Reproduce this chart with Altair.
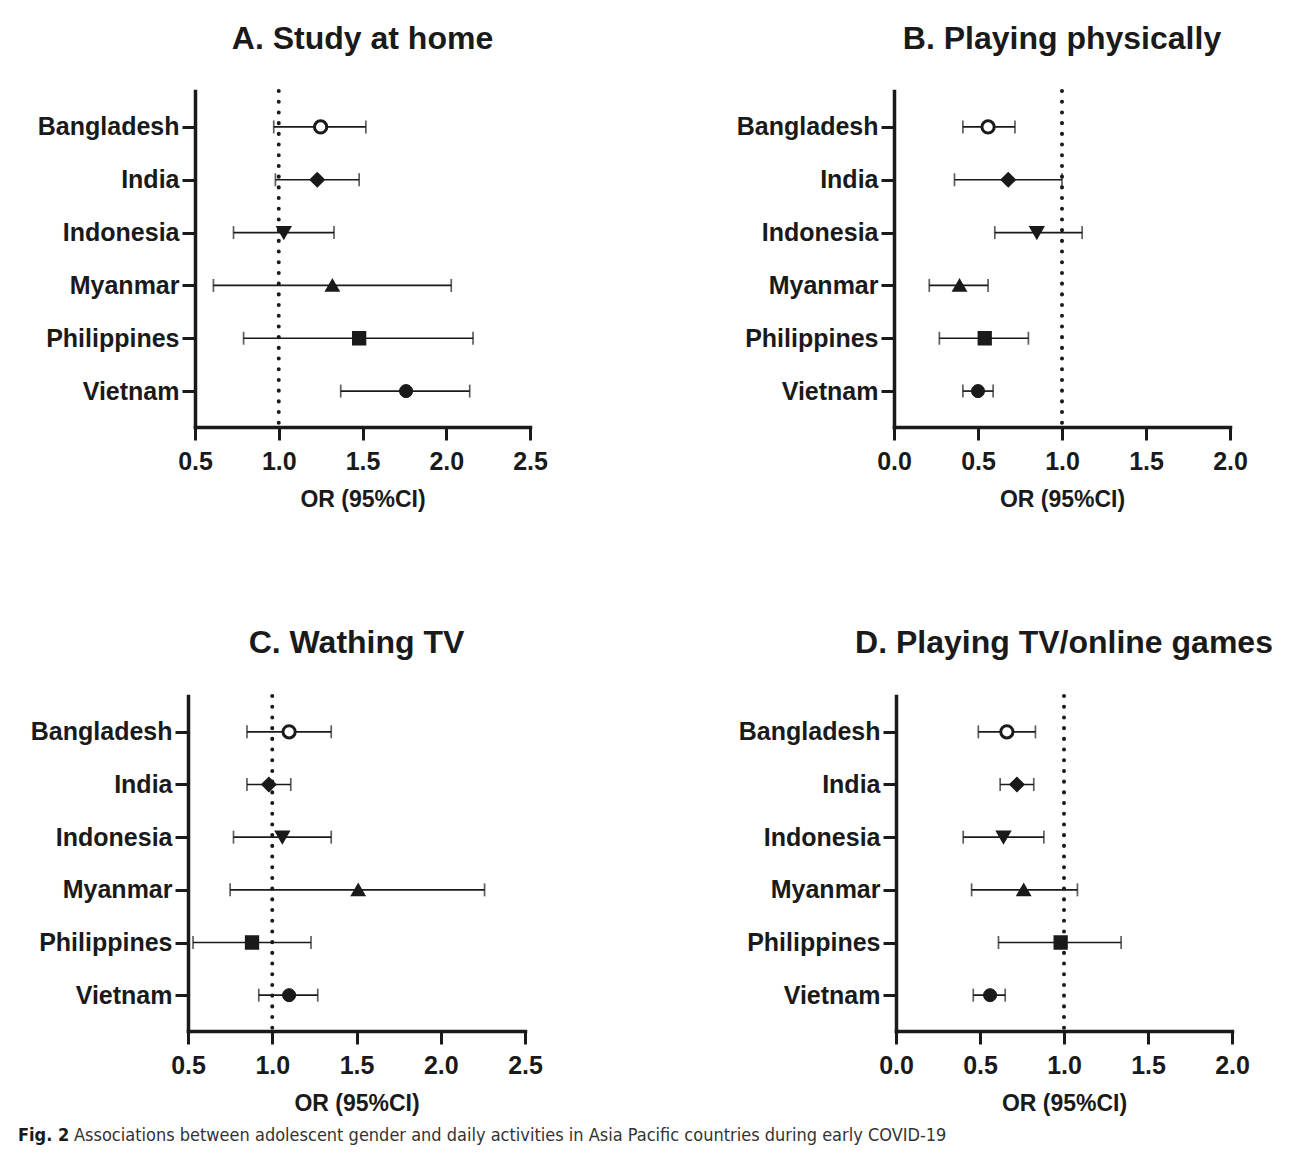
import altair as alt
import pandas as pd

countries = ["Bangladesh", "India", "Indonesia", "Myanmar", "Philippines", "Vietnam"]
ref_value = [1.0]

# A. Study at home
a_or = [1.25, 1.23, 1.03, 1.32, 1.48, 1.76]
a_lo = [0.97, 0.98, 0.73, 0.61, 0.79, 1.37]
a_hi = [1.52, 1.48, 1.33, 2.03, 2.16, 2.14]
a_ticks = [0.5, 1.0, 1.5, 2.0, 2.5]

# B. Playing physically
b_or = [0.56, 0.68, 0.85, 0.39, 0.54, 0.50]
b_lo = [0.41, 0.36, 0.60, 0.21, 0.27, 0.41]
b_hi = [0.72, 1.00, 1.12, 0.56, 0.80, 0.59]
b_ticks = [0.0, 0.5, 1.0, 1.5, 2.0]

# C. Wathing TV
c_or = [1.10, 0.98, 1.06, 1.51, 0.88, 1.10]
c_lo = [0.85, 0.85, 0.77, 0.75, 0.53, 0.92]
c_hi = [1.35, 1.11, 1.35, 2.26, 1.23, 1.27]
c_ticks = [0.5, 1.0, 1.5, 2.0, 2.5]

# D. Playing TV/online games
d_or = [0.66, 0.72, 0.64, 0.76, 0.98, 0.56]
d_lo = [0.49, 0.62, 0.40, 0.45, 0.61, 0.46]
d_hi = [0.83, 0.82, 0.88, 1.08, 1.34, 0.65]
d_ticks = [0.0, 0.5, 1.0, 1.5, 2.0]

titles = ["A. Study at home", "B. Playing physically", "C. Wathing TV", "D. Playing TV/online games"]
x_title = "OR (95%CI)"
caption_label = "Fig. 2"
caption_body = "Associations between adolescent gender and daily activities in Asia Pacific countries during early COVID-19"

INK = "#1a1a1a"
FONT = "Liberation Sans, Arial, Helvetica, sans-serif"
CAPFONT = "Liberation Sans Narrow, DejaVu Sans Condensed, Roboto Condensed, Liberation Sans, sans-serif"

shape_range = ["circle", "diamond", "triangle-down", "triangle-up", "square", "circle"]
size_range = [150, 170, 190, 200, 175, 190]
fill_range = ["white", INK, INK, INK, INK, INK]
sw_range = [3, 1, 1, 1, 1, 1]


def panel(title, ors, los, his, ticks, width, height, title_offset):
    df = pd.DataFrame({"country": countries, "or": ors, "lo": los, "hi": his})
    xscale = alt.Scale(domain=[ticks[0], ticks[-1]], nice=False, zero=False)
    xaxis = alt.Axis(values=ticks, format=".1f", labelPadding=9, titlePadding=14,
                     labelFlush=False)

    def xenc(field):
        return alt.X(field, scale=xscale, axis=xaxis, title=x_title)

    yenc = alt.Y("country:N", sort=countries,
                 scale=alt.Scale(type="point", padding=0.68, domain=countries),
                 axis=alt.Axis(title=None, labelPadding=3))

    ref = alt.Chart(pd.DataFrame({"ref": ref_value})).mark_rule(
        color=INK, strokeWidth=4, strokeDash=[0.1, 10.6], strokeCap="round"
    ).encode(x=xenc("ref:Q"))

    base = alt.Chart(df)
    bars = base.mark_rule(color=INK, strokeWidth=1.7).encode(
        x=xenc("lo:Q"), x2="hi:Q", y=yenc)
    cap_lo = base.mark_tick(color=INK, thickness=1.7, size=13).encode(x=xenc("lo:Q"), y=yenc)
    cap_hi = base.mark_tick(color=INK, thickness=1.7, size=13).encode(x=xenc("hi:Q"), y=yenc)
    pts = base.mark_point(filled=True, stroke=INK, opacity=1).encode(
        x=xenc("or:Q"), y=yenc,
        shape=alt.Shape("country:N", scale=alt.Scale(domain=countries, range=shape_range), legend=None),
        size=alt.Size("country:N", scale=alt.Scale(domain=countries, range=size_range), legend=None),
        fill=alt.Fill("country:N", scale=alt.Scale(domain=countries, range=fill_range), legend=None),
        strokeWidth=alt.StrokeWidth("country:N", scale=alt.Scale(domain=countries, range=sw_range), legend=None),
    )
    return alt.layer(ref, bars, cap_lo, cap_hi, pts).properties(
        width=width, height=height,
        title=alt.TitleParams(title, font=FONT, fontSize=32, fontWeight="bold", color=INK,
                              anchor="middle", frame="group", baseline="alphabetic",
                              offset=title_offset),
    )


def spacer():
    return alt.Chart(pd.DataFrame({"s": [0]})).mark_rect(opacity=0).encode(
        x=alt.value(0), x2=alt.value(1), y=alt.value(0), y2=alt.value(1)
    ).properties(width=1, height=1)


pA = panel(titles[0], a_or, a_lo, a_hi, a_ticks, 335, 336, 8)
pB = panel(titles[1], b_or, b_lo, b_hi, b_ticks, 336, 336, 8)
pC = panel(titles[2], c_or, c_lo, c_hi, c_ticks, 337, 335, 9)
pD = panel(titles[3], d_or, d_lo, d_hi, d_ticks, 336, 335, 9)

row1 = alt.hconcat(alt.hconcat(spacer(), pA, spacing=18), pB, spacing=188)
row2 = alt.hconcat(alt.hconcat(spacer(), pC, spacing=11), pD, spacing=195)
body = alt.vconcat(row1, row2, spacing=116)

cap_df = pd.DataFrame({"bold": [caption_label], "text": [caption_body]})
cap_bold = alt.Chart(cap_df).mark_text(
    align="left", baseline="middle", font=CAPFONT, fontSize=18, fontWeight="bold", color=INK
).encode(text="bold:N", x=alt.value(0), y=alt.value(12))
cap_text = alt.Chart(cap_df).mark_text(
    align="left", baseline="middle", font=CAPFONT, fontSize=18, color="#333333"
).encode(text="text:N", x=alt.value(56), y=alt.value(12))
caption = alt.layer(cap_bold, cap_text).properties(width=1100, height=24)

chart = alt.vconcat(body, caption, spacing=9).properties(
    padding={"left": 10, "top": 15, "right": 0, "bottom": 0}
).configure_view(stroke=None).configure_axis(
    domainColor=INK, domainWidth=3.5, domainCap="square",
    tickColor=INK, tickWidth=3, tickSize=13,
    labelFont=FONT, labelFontSize=25, labelFontWeight="bold", labelColor=INK,
    titleFont=FONT, titleFontSize=23, titleFontWeight="bold", titleColor=INK,
    grid=False,
).configure_concat(spacing=0)

chart.save("out.html", embed_options={"renderer": "svg", "actions": False})
